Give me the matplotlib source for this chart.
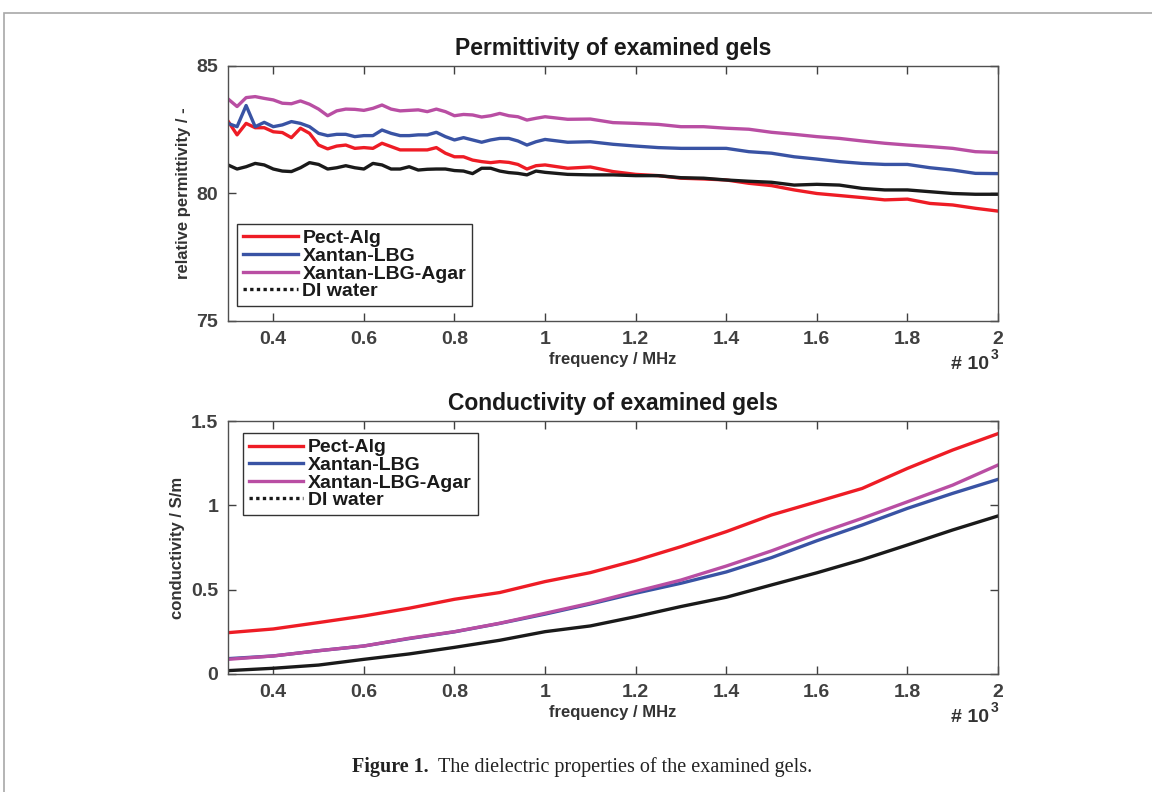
import matplotlib
matplotlib.use('Agg')
import matplotlib.pyplot as plt
from matplotlib.lines import Line2D
from matplotlib.patches import Rectangle
from matplotlib.ticker import FuncFormatter

plt.rcParams['font.family'] = ['Liberation Sans', 'DejaVu Sans']
plt.rcParams['font.weight'] = 'bold'

# frequency in MHz
freq_eps = [300, 320, 340, 360, 380, 400, 420, 440, 460, 480,
            500, 520, 540, 560, 580, 600, 620, 640, 660, 680,
            700, 720, 740, 760, 780, 800, 820, 840, 860, 880,
            900, 920, 940, 960, 980, 1000, 1050, 1100, 1150, 1200,
            1250, 1300, 1350, 1400, 1450, 1500, 1550, 1600, 1650, 1700,
            1750, 1800, 1850, 1900, 1950, 2000]

eps_pect = [82.84, 82.30, 82.75, 82.58, 82.58, 82.42, 82.39, 82.19, 82.56, 82.36,
            81.90, 81.75, 81.86, 81.90, 81.77, 81.80, 81.77, 81.97, 81.84, 81.71,
            81.71, 81.71, 81.71, 81.80, 81.58, 81.44, 81.44, 81.31, 81.25, 81.21,
            81.25, 81.22, 81.14, 80.96, 81.09, 81.12, 80.99, 81.04, 80.86, 80.75,
            80.70, 80.60, 80.57, 80.53, 80.40, 80.31, 80.14, 80.00, 79.92, 79.84,
            79.75, 79.78, 79.61, 79.55, 79.42, 79.31]
eps_xlbg = [82.75, 82.62, 83.45, 82.62, 82.79, 82.62, 82.69, 82.82, 82.75, 82.62,
            82.36, 82.27, 82.32, 82.32, 82.23, 82.27, 82.27, 82.49, 82.36, 82.27,
            82.27, 82.30, 82.30, 82.40, 82.23, 82.10, 82.19, 82.10, 82.01, 82.10,
            82.16, 82.16, 82.06, 81.90, 82.03, 82.12, 82.01, 82.03, 81.93, 81.86,
            81.80, 81.77, 81.77, 81.77, 81.64, 81.58, 81.44, 81.35, 81.25, 81.18,
            81.14, 81.14, 81.01, 80.92, 80.79, 80.78]
eps_xlbg_agar = [83.71, 83.41, 83.76, 83.80, 83.73, 83.67, 83.54, 83.52, 83.63, 83.50,
                 83.31, 83.05, 83.24, 83.31, 83.30, 83.26, 83.34, 83.47, 83.31, 83.24,
                 83.26, 83.28, 83.21, 83.31, 83.21, 83.05, 83.10, 83.08, 83.00, 83.05,
                 83.14, 83.05, 83.01, 82.88, 82.95, 83.01, 82.91, 82.92, 82.78, 82.75,
                 82.71, 82.62, 82.62, 82.56, 82.52, 82.40, 82.32, 82.23, 82.16, 82.06,
                 81.97, 81.90, 81.84, 81.77, 81.64, 81.61]
eps_water = [81.12, 80.96, 81.05, 81.18, 81.12, 80.96, 80.88, 80.86, 81.01, 81.21,
             81.14, 80.96, 81.01, 81.09, 81.01, 80.96, 81.18, 81.12, 80.96, 80.96,
             81.05, 80.92, 80.95, 80.96, 80.96, 80.90, 80.88, 80.78, 80.99, 80.99,
             80.88, 80.82, 80.79, 80.73, 80.88, 80.83, 80.75, 80.73, 80.73, 80.70,
             80.70, 80.62, 80.60, 80.53, 80.48, 80.44, 80.33, 80.36, 80.33, 80.20,
             80.14, 80.14, 80.07, 80.00, 79.97, 79.97]

freq_sig = [300, 400, 500, 600, 700, 800, 900, 1000, 1100, 1200,
            1300, 1400, 1500, 1600, 1700, 1800, 1900, 2000]
sig_pect = [0.245, 0.267, 0.305, 0.344, 0.390, 0.443, 0.483, 0.548, 0.601, 0.673,
            0.755, 0.844, 0.943, 1.021, 1.100, 1.219, 1.328, 1.425]
sig_xlbg = [0.091, 0.107, 0.138, 0.166, 0.210, 0.250, 0.300, 0.355, 0.415, 0.479,
            0.538, 0.605, 0.690, 0.790, 0.883, 0.982, 1.071, 1.154]
sig_xlbg_agar = [0.087, 0.107, 0.138, 0.166, 0.212, 0.251, 0.301, 0.360, 0.420, 0.489,
                 0.557, 0.640, 0.730, 0.830, 0.923, 1.021, 1.120, 1.239]
sig_water = [0.020, 0.034, 0.053, 0.087, 0.119, 0.158, 0.200, 0.251, 0.285, 0.340,
             0.400, 0.455, 0.528, 0.600, 0.678, 0.765, 0.854, 0.937]

names = ['Pect-Alg', 'Xantan-LBG', 'Xantan-LBG-Agar', 'DI water']
colors = ['#ee1c25', '#3953a4', '#b94ea3', '#1a1a1a']

fig = plt.figure(figsize=(11.52, 7.92), dpi=100)

# page frame
fig.add_artist(Rectangle((4/1152, -0.1), 1.2, 1.1 - 13/792, transform=fig.transFigure,
                         fill=False, ec='#a8a8a8', lw=1.2))

ax1 = fig.add_axes([228/1152, 1-321/792, 770/1152, 255/792])
ax2 = fig.add_axes([228/1152, 1-674/792, 770/1152, 253/792])

for y, c in zip([eps_pect, eps_xlbg, eps_xlbg_agar, eps_water], colors):
    ax1.plot(freq_eps, y, color=c, lw=2.4)
for y, c in zip([sig_pect, sig_xlbg, sig_xlbg_agar, sig_water], colors):
    ax2.plot(freq_sig, y, color=c, lw=2.4)

handles = [Line2D([], [], color=c, lw=2.4) for c in colors[:3]]
handles.append(Line2D([], [], color='#1a1a1a', lw=2.4, ls=(0, (1, 1))))

def fmt(v, pos):
    return '%g' % (v / 1000)

for ax, title, ylab in [(ax1, 'Permittivity of examined gels', 'relative permittivity / -'),
                        (ax2, 'Conductivity of examined gels', 'conductivity / S/m')]:
    ax.set_xlim(300, 2000)
    ax.set_xticks([400, 600, 800, 1000, 1200, 1400, 1600, 1800, 2000])
    ax.xaxis.set_major_formatter(FuncFormatter(fmt))
    ax.tick_params(direction='in', length=6, width=1, top=True, right=True,
                   colors='#404040', labelsize=14, pad=7)
    for s in ax.spines.values():
        s.set_color('#505050')
        s.set_linewidth(1)
    ax.set_title(title, fontsize=16.5, fontweight='bold', color='#1a1a1a', pad=8)
    ax.set_xlabel('frequency / MHz', fontsize=12, fontweight='bold', color='#333333', labelpad=3)
    ax.set_ylabel(ylab, fontsize=12, fontweight='bold', color='#333333', labelpad=4)
    ax.text(0.988, -0.17, '# 10', transform=ax.transAxes, ha='right', va='center',
            fontsize=14, color='#333333')
    ax.text(0.990, -0.135, '3', transform=ax.transAxes, ha='left', va='center',
            fontsize=10, color='#333333')

ax1.set_ylim(75, 85)
ax1.set_yticks([75, 80, 85])
ax2.set_ylim(0, 1.5)
ax2.set_yticks([0, 0.5, 1, 1.5])
ax2.set_yticklabels(['0', '0.5', '1', '1.5'])

leg_kw = dict(prop={'weight': 'bold', 'size': 14}, handlelength=2.8, handletextpad=0.25,
              labelspacing=0.0, borderpad=0.3, borderaxespad=0, fancybox=False,
              framealpha=1, edgecolor='#333333')
l1 = ax1.legend(handles, names, loc='lower left', bbox_to_anchor=(0.012, 0.059), **leg_kw)
l2 = ax2.legend(handles, names, loc='upper left', bbox_to_anchor=(0.0195, 0.953), **leg_kw)
for l in (l1, l2):
    l.get_frame().set_linewidth(1)
    for t in l.get_texts():
        t.set_color('#1a1a1a')

cap = fig.text(352/1152, 1-767/792, 'Figure 1.', family=['Liberation Serif', 'DejaVu Serif'],
               fontweight='bold', fontsize=14.5, va='center', color='#222222')
ax2.annotate('The dielectric properties of the examined gels.', xy=(1, 0.5), xycoords=cap,
             xytext=(7, 0), textcoords='offset points', va='center',
             family=['Liberation Serif', 'DejaVu Serif'], fontweight='normal', fontsize=14.5,
             color='#222222', annotation_clip=False)

fig.savefig('out.png', dpi=100)
